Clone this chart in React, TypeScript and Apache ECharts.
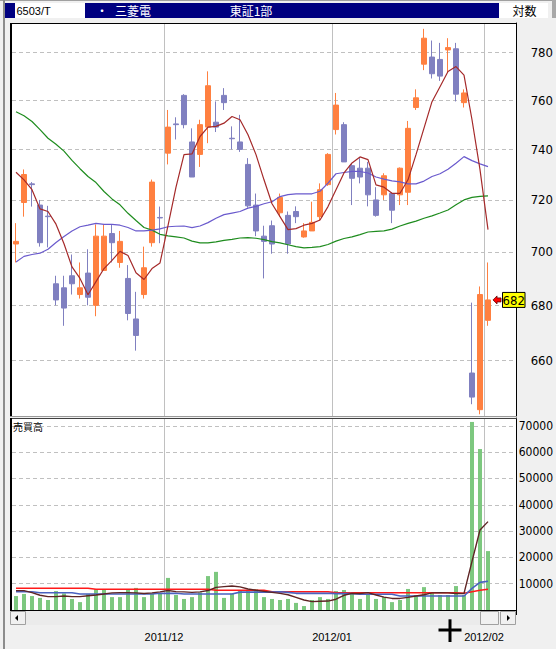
import { useEffect, useRef } from 'react';
import * as echarts from 'echarts';

// ---------- data ----------
const tradingDays: string[] = [
  '2011/11/02', '2011/11/04', '2011/11/07', '2011/11/08', '2011/11/09', '2011/11/10', '2011/11/11',
  '2011/11/14', '2011/11/15', '2011/11/16', '2011/11/17', '2011/11/18',
  '2011/11/21', '2011/11/22', '2011/11/24', '2011/11/25',
  '2011/11/28', '2011/11/29', '2011/11/30',
  '2011/12/01', '2011/12/02', '2011/12/05', '2011/12/06', '2011/12/07', '2011/12/08', '2011/12/09',
  '2011/12/12', '2011/12/13', '2011/12/14', '2011/12/15', '2011/12/16',
  '2011/12/19', '2011/12/20', '2011/12/21', '2011/12/22',
  '2011/12/26', '2011/12/27', '2011/12/28', '2011/12/29', '2011/12/30',
  '2012/01/04', '2012/01/05', '2012/01/06',
  '2012/01/10', '2012/01/11', '2012/01/12', '2012/01/13',
  '2012/01/16', '2012/01/17', '2012/01/18', '2012/01/19', '2012/01/20',
  '2012/01/23', '2012/01/24', '2012/01/25', '2012/01/26', '2012/01/27',
  '2012/01/30', '2012/01/31',
  '2012/02/01',
];
const emptySlots: string[] = ['2012/02/02', '2012/02/03', '2012/02/06'];

const opens: number[] = [
  703, 719, 726.3, 718, 713.7, 688, 686.5, 691, 684, 692,
  680, 693, 707, 696, 690, 675, 684, 703.5, 713.2, 738.5,
  750.3, 762, 743, 738, 749, 751, 762, 744.5, 743, 734,
  718, 706, 710, 715, 714, 715.5, 705.7, 708, 713.5, 726,
  748, 750, 733.5, 732.5, 732.5, 720, 722, 722.5, 722, 723,
  757, 775, 778, 777, 781, 781.5, 759, 655.5, 642.6, 674.5,
];
const closes: number[] = [
  704, 730, 726, 703.5, 713.5, 682, 679, 688, 686.5, 683,
  706, 706, 703.5, 704, 677, 669, 694, 727, 713, 749,
  750, 750, 729, 750, 766, 749, 759, 744.3, 740, 717.7,
  708, 704, 703, 721, 703, 713.5, 708, 711.3, 724, 738,
  758, 735, 728.5, 729, 722, 714, 729.5, 716, 732.5, 748.5,
  761, 786, 771, 770, 782, 762.5, 763, 647, 684, 682,
];
const lows: number[] = [
  696, 713.5, 717.4, 702, 701.7, 680, 672.5, 684, 682.5, 680,
  676, 693, 696, 694, 674.5, 663.5, 682.5, 702, 703.3, 734,
  744, 748.5, 729, 733, 742.5, 747, 756, 740, 739, 717,
  706, 690, 699.3, 713.5, 699.3, 711, 705.4, 708, 712, 725.5,
  746, 735, 718, 726.5, 717.5, 713.5, 720, 711, 718, 718,
  756, 772.5, 769, 768, 771.5, 759.5, 757, 644.5, 641, 672.5,
];
const highs: number[] = [
  711, 732, 727, 720, 717.7, 691, 691, 699, 696, 701,
  710.5, 710.5, 710.5, 708, 695, 685, 702, 728, 717.4, 756,
  753, 762.5, 748.5, 752, 772, 759.5, 765, 749.3, 754, 736.5,
  722.5, 710, 712, 722.5, 715.5, 717.5, 711, 719.3, 726.5, 738.5,
  763, 751, 734.5, 736.5, 735, 725, 730.5, 723, 732.8, 751.5,
  764.5, 790, 785, 784, 786, 784, 764.5, 681, 687, 696,
];

const maShort: number[] = [
  730.9, 727.9, 724, 716.5, 715.5, 710.6, 703.1, 694.3, 690, 683.9,
  688.8, 693.7, 696.8, 700.2, 698.6, 692.1, 689.6, 693.7, 695.8, 710,
  725, 737.9, 738.2, 745.2, 749, 749.3, 750.6, 753.3, 752, 745.9,
  737.9, 727.9, 718.5, 713.5, 708.5, 708.9, 710.2, 710.9, 712.2, 717.4,
  724, 730.6, 734.6, 737, 735.9, 725.9, 725, 722.6, 722.6, 727.9,
  737.9, 748.6, 759.4, 765.6, 771.9, 774, 770.4, 752, 731.9, 708.5,
];
const maMid: number[] = [
  696.2, 698.3, 699, 699.5, 701, 703.6, 705.9, 708, 709.6, 710.2,
  710.9, 710.5, 710.5, 710.2, 709.3, 708, 708, 708.3, 708.8, 709.6,
  709.8, 709.9, 709.3, 709.9, 711.2, 712.9, 714.3, 714.9, 715.5, 716.8,
  717.5, 718.5, 719.3, 721.3, 722.1, 722.4, 722.4, 722.4, 723.4, 726.6,
  730.3, 730.8, 731.2, 731.2, 730.6, 729, 728.2, 727.5, 727.1, 726.3,
  726.3, 727.4, 729.2, 730.3, 732.1, 734.5, 737.1, 735.5, 734.2, 733.1,
];
const maLong: number[] = [
  755.3, 753.6, 751.3, 748, 744.5, 742.1, 739.3, 735.6, 732.3, 729.2,
  726.8, 723.3, 720.4, 718.1, 714.8, 712, 709.3, 708.3, 706.7, 706.1,
  705.7, 705.3, 704.1, 703.4, 703.4, 703.8, 704.4, 704.8, 705.3, 705.4,
  705.2, 704.7, 703.9, 703.4, 702.7, 702, 701.5, 701.7, 702, 702.8,
  704.1, 705.1, 705.7, 706.6, 707.6, 707.8, 708, 708.7, 709.9, 710.9,
  711.8, 712.9, 713.8, 714.9, 716.1, 718.1, 720, 721, 721.4, 721.6,
];

const volumes: number[] = [
  5300, 6100, 5300, 4600, 3800, 7200, 6300, 4200, 3000, 6100,
  7900, 7900, 4900, 4900, 7900, 8400, 4900, 6100, 6100, 12200,
  5700, 4200, 4900, 6700, 12900, 14500, 4600, 6300, 7600, 7600,
  7900, 4900, 4200, 3800, 4200, 2700, 1500, 3800, 4900, 4200,
  7200, 7600, 6800, 4200, 6100, 4200, 4900, 3000, 3800, 8000,
  5700, 8700, 6500, 5700, 5700, 9100, 5700, 71500, 61200, 22400,
];
const volMaShort: number[] = [
  7350, 7350, 6600, 5600, 5100, 5100, 5300, 5100, 5100, 5400,
  5700, 6100, 6500, 6600, 6600, 6500, 6300, 6500, 6900, 7400,
  7000, 6900, 6700, 6900, 7400, 8600, 8900, 9100, 8800, 8000,
  7500, 7100, 6700, 6300, 5800, 4800, 3800, 3200, 3300, 3400,
  4100, 5600, 6300, 6300, 6600, 5700, 4900, 4400, 4400, 4800,
  5300, 5800, 6500, 6600, 6500, 6300, 6300, 18500, 30400, 33600,
];
const volMaMid: number[] = [
  6960, 6960, 6960, 6580, 6580, 6580, 6580, 6580, 6090, 6090,
  6090, 6090, 6090, 6090, 6090, 6090, 6090, 6090, 6340, 6340,
  6340, 6090, 6090, 6090, 6090, 6090, 6090, 6090, 6800, 6800,
  6800, 6800, 6800, 6960, 6700, 6340, 6340, 6340, 6340, 6340,
  6210, 6210, 6210, 5960, 5960, 5960, 5960, 5960, 5320, 5320,
  5320, 5320, 5320, 5320, 5320, 5320, 5320, 8200, 10500, 10900,
];
const volMaLong: number[] = [
  8250, 8250, 8250, 8250, 8250, 8250, 8250, 8250, 8250, 8250,
  7870, 7870, 7870, 7870, 7870, 7870, 7870, 7870, 7870, 7870,
  7870, 7870, 7870, 7870, 7870, 7490, 7490, 7490, 7490, 7490,
  7490, 7490, 6960, 6960, 6960, 6960, 6960, 6960, 6960, 6960,
  6580, 6580, 6580, 6580, 6580, 6580, 6580, 6580, 6580, 6580,
  6580, 6580, 6580, 6580, 6580, 6580, 6340, 6960, 7490, 7860,
];

const priceTicks: number[] = [660, 680, 700, 720, 740, 760, 780];
const PRICE_AXIS_MIN = 640.4;
const PRICE_AXIS_MAX = 792.5;
const VOL_AXIS_MAX = 73000;
const VOL_TICK = 10000;

// ---------- styles ----------
const NUM_FONT = "'Liberation Sans Narrow', 'DejaVu Sans Condensed', 'Liberation Sans', sans-serif";
const DATE_FONT = "'Liberation Sans', Arial, sans-serif";
const CJK_FONT = "'Noto Sans CJK JP', 'Noto Sans CJK SC', sans-serif";
const UP = '#FF8040';
const DOWN = '#8080C0';
const GRID_GRAY = '#C0C0C0';

const categories = [...tradingDays, ...emptySlots];
const monthStart = (i: number) =>
  i > 0 && i < tradingDays.length && categories[i].slice(0, 7) !== categories[i - 1].slice(0, 7);

const ln = (v: number) => Math.log(v);

function staticGraphics(): any[] {
  const white = (id: string, text: string, x: number, align = 'left') => ({
    type: 'text', id, silent: true, z: 100,
    style: { text, x, y: 10.5, align, verticalAlign: 'middle', font: `12px ${CJK_FONT}`, fill: '#FFFFFF' },
  });
  return [
    { type: 'rect', id: 'topline', silent: true, shape: { x: 0, y: 0, width: 556, height: 1 }, style: { fill: '#A0A0A0' } },
    { type: 'rect', id: 'leftbar', silent: true, shape: { x: 3, y: 0, width: 2, height: 649 }, style: { fill: '#8C8C8C' } },
    { type: 'rect', id: 'rightEdge', silent: true, shape: { x: 552, y: 0, width: 4, height: 18 }, style: { fill: '#A8A8A8' } },
    { type: 'rect', id: 'navy', silent: true, shape: { x: 5, y: 3, width: 494, height: 15 }, style: { fill: '#000080' } },
    { type: 'rect', id: 'codeBox', silent: true, shape: { x: 15, y: 3, width: 70, height: 15 }, style: { fill: '#FFFFFF' } },
    {
      type: 'text', id: 'codeText', silent: true, z: 100,
      style: { text: '6503/T', x: 16.5, y: 11, verticalAlign: 'middle', font: `11px ${DATE_FONT}`, fill: '#000' },
    },
    white('dot', '・', 96),
    white('name', '三菱電', 115),
    white('market', '東証1部', 251, 'center'),
    { type: 'rect', id: 'logBox', silent: true, shape: { x: 499, y: 3, width: 49, height: 15 }, style: { fill: '#FFFFFF' } },
    {
      type: 'text', id: 'logText', silent: true, z: 100,
      style: { text: '対数', x: 524.5, y: 10.5, align: 'center', verticalAlign: 'middle', font: `12px ${CJK_FONT}`, fill: '#000' },
    },
    // frames
    { type: 'rect', id: 'pTop', silent: true, z: 100, shape: { x: 10, y: 23, width: 507, height: 1 }, style: { fill: '#000' } },
    { type: 'rect', id: 'pLeft', silent: true, z: 100, shape: { x: 10, y: 23, width: 2, height: 393 }, style: { fill: '#000' } },
    { type: 'rect', id: 'pBottom', silent: true, z: 100, shape: { x: 10, y: 416, width: 507, height: 1 }, style: { fill: '#9A9A9A' } },
    { type: 'rect', id: 'vTop', silent: true, z: 100, shape: { x: 10, y: 418, width: 507, height: 1 }, style: { fill: '#404040' } },
    { type: 'rect', id: 'vLeft', silent: true, z: 100, shape: { x: 10, y: 418, width: 2, height: 193 }, style: { fill: '#000' } },
    { type: 'rect', id: 'vBottom', silent: true, z: 100, shape: { x: 10, y: 610, width: 507, height: 1 }, style: { fill: '#000' } },
    {
      type: 'text', id: 'volTitle', silent: true, z: 100,
      style: { text: '売買高', x: 13, y: 421, verticalAlign: 'top', font: `10px ${CJK_FONT}`, fill: '#000' },
    },
    // scrollbar
    { type: 'rect', id: 'sTrack', silent: true, z: 100, shape: { x: 26, y: 611, width: 454, height: 14 }, style: { fill: '#EBEBEB' } },
    { type: 'rect', id: 'sLeft', silent: true, z: 100, shape: { x: 10.5, y: 611.5, width: 15, height: 13 }, style: { fill: '#F0F0F0', stroke: '#A0A0A0', lineWidth: 1 } },
    { type: 'polygon', id: 'sLeftArrow', silent: true, z: 101, shape: { points: [[15, 618], [18, 615], [18, 621]] }, style: { fill: '#000' } },
    { type: 'rect', id: 'sThumb', silent: true, z: 100, shape: { x: 480.5, y: 611.5, width: 18, height: 13 }, style: { fill: '#F0F0F0', stroke: '#A0A0A0', lineWidth: 1 } },
    { type: 'rect', id: 'sRight', silent: true, z: 100, shape: { x: 500.5, y: 611.5, width: 15, height: 13 }, style: { fill: '#F0F0F0', stroke: '#A0A0A0', lineWidth: 1 } },
    { type: 'polygon', id: 'sRightArrow', silent: true, z: 101, shape: { points: [[510, 618], [507, 615], [507, 621]] }, style: { fill: '#000' } },
    // mouse cursor
    { type: 'rect', id: 'curH', silent: true, z: 110, shape: { x: 438.5, y: 628.5, width: 23, height: 3 }, style: { fill: '#000' } },
    { type: 'rect', id: 'curV', silent: true, z: 110, shape: { x: 448.5, y: 619.3, width: 3, height: 22.7 }, style: { fill: '#000' } },
  ];
}

function buildOption(): any {
  const candleData = tradingDays.map((_, i) => [ln(opens[i]), ln(closes[i]), ln(lows[i]), ln(highs[i])]);
  const lnTicks = priceTicks.map(ln);
  const vSplit = { show: true, interval: (i: number) => monthStart(i), lineStyle: { color: GRID_GRAY, width: 1, type: 'solid' } };
  const hSplit = { show: true, lineStyle: { color: GRID_GRAY, width: 1, type: [4, 3] } };
  const lineSeries = (name: string, data: number[], color: string, width: number, xi: number, useLog: boolean) => ({
    type: 'line', name, xAxisIndex: xi, yAxisIndex: xi, data: useLog ? data.map(ln) : data,
    symbol: 'none', silent: true, lineStyle: { color, width }, itemStyle: { color },
  });
  return {
    animation: false,
    backgroundColor: '#F0F0F0',
    textStyle: { fontFamily: NUM_FONT },
    grid: [
      { left: 12, top: 23, width: 504, height: 393, show: true, backgroundColor: '#FFFFFF', borderWidth: 0 },
      { left: 12, top: 418, width: 504, height: 192, show: true, backgroundColor: '#FFFFFF', borderWidth: 0 },
    ],
    xAxis: [
      {
        type: 'category', gridIndex: 0, data: categories, boundaryGap: true,
        axisLine: { show: false }, axisTick: { show: false }, axisLabel: { show: false },
        splitLine: vSplit,
      },
      {
        type: 'category', gridIndex: 1, data: categories, boundaryGap: true, position: 'bottom', offset: 16,
        axisLine: { show: false },
        axisTick: { show: true, interval: (i: number) => monthStart(i), length: 5, lineStyle: { color: '#000', width: 1 } },
        axisLabel: {
          interval: (i: number) => monthStart(i),
          formatter: (v: string) => v.slice(0, 7),
          padding: [0, 8, 0, 0], margin: 5, fontSize: 11, fontFamily: DATE_FONT, color: '#000',
        },
        splitLine: vSplit,
      },
    ],
    yAxis: [
      {
        type: 'value', gridIndex: 0, position: 'right', min: ln(PRICE_AXIS_MIN), max: ln(PRICE_AXIS_MAX),
        axisLine: { show: true, lineStyle: { color: '#000', width: 1 } },
        axisTick: { show: false, customValues: lnTicks },
        axisLabel: {
          customValues: lnTicks,
          formatter: (v: number) => String(Math.round(Math.exp(v))),
          align: 'right', margin: 37, fontSize: 13, fontFamily: NUM_FONT, color: '#000',
        },
        splitLine: hSplit,
      },
      {
        type: 'value', gridIndex: 1, position: 'right', min: 0, max: VOL_AXIS_MAX, interval: VOL_TICK,
        axisLine: { show: true, lineStyle: { color: '#000', width: 1 } },
        axisTick: { show: false },
        axisLabel: {
          formatter: (v: number) => (v > 0 && v % VOL_TICK === 0 ? String(v) : ''),
          align: 'right', margin: 37, fontSize: 12, fontFamily: NUM_FONT, color: '#000',
        },
        splitLine: hSplit,
      },
    ],
    series: [
      {
        type: 'candlestick', xAxisIndex: 0, yAxisIndex: 0, data: candleData, barWidth: 6, silent: true,
        itemStyle: { color: UP, color0: DOWN, borderColor: UP, borderColor0: DOWN, borderWidth: 1 },
      },
      lineSeries('ma-long', maLong, '#1E8C1E', 1.2, 0, true),
      lineSeries('ma-mid', maMid, '#6A5ACD', 1.2, 0, true),
      lineSeries('ma-short', maShort, '#A52A2A', 1.2, 0, true),
      {
        type: 'bar', xAxisIndex: 1, yAxisIndex: 1, data: volumes, barWidth: 4, silent: true,
        itemStyle: { color: '#7DC87F' },
      },
      lineSeries('vma-long', volMaLong, '#FF1A1A', 1.6, 1, false),
      lineSeries('vma-mid', volMaMid, '#4A62C0', 1.6, 1, false),
      lineSeries('vma-short', volMaShort, '#5E2424', 1.4, 1, false),
    ],
    graphic: { elements: staticGraphics() },
  };
}

export default function App() {
  const ref = useRef<HTMLDivElement>(null);
  useEffect(() => {
    if (!ref.current) return;
    const chart = echarts.init(ref.current, undefined, { renderer: 'svg', width: 556, height: 649 });
    chart.setOption(buildOption());
    const lastIdx = tradingDays.length - 1;
    const lastClose = closes[lastIdx];
    const pt = chart.convertToPixel({ gridIndex: 0 }, [lastIdx, ln(lastClose)]) as number[];
    if (pt) {
      const [mx, my] = pt;
      const marker = [
        {
          type: 'polygon', id: 'mkArrow', silent: true, z: 120,
          shape: { points: [[mx + 5, my], [mx + 9, my - 4], [mx + 9, my - 2], [mx + 13, my - 2], [mx + 13, my + 2], [mx + 9, my + 2], [mx + 9, my + 4]] },
          style: { fill: '#FF0000', stroke: '#600000', lineWidth: 0.8 },
        },
        {
          type: 'rect', id: 'mkBox', silent: true, z: 120,
          shape: { x: mx + 14.5, y: my - 7.5, width: 22.5, height: 15 },
          style: { fill: '#FFFF00', stroke: '#000', lineWidth: 1 },
        },
        {
          type: 'text', id: 'mkText', silent: true, z: 121,
          style: { text: String(Math.round(lastClose)), x: mx + 25.75, y: my + 0.5, align: 'center', verticalAlign: 'middle', font: `13px ${NUM_FONT}`, fill: '#000' },
        },
      ];
      chart.setOption({ graphic: { elements: [...staticGraphics(), ...marker] } });
    }
    return () => chart.dispose();
  }, []);
  return (
    <div
      ref={ref}
      style={{ position: 'fixed', left: 0, top: 0, width: 556, height: 649, background: '#F0F0F0' }}
    />
  );
}
